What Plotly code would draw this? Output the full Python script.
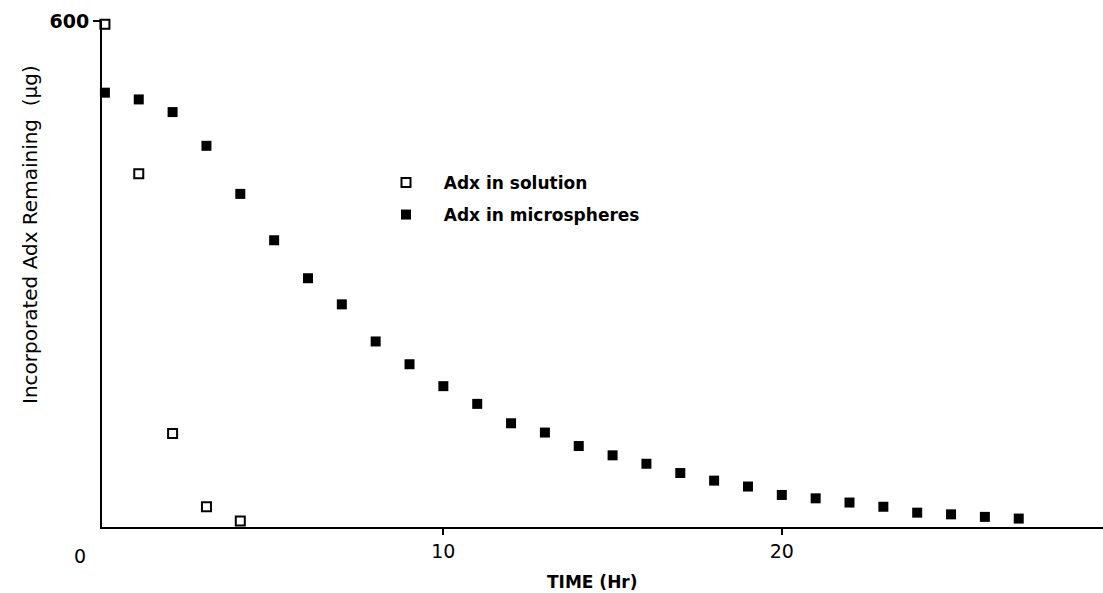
import plotly.graph_objects as go

# Data
time_solution = [0, 1, 2, 3, 4]
adx_solution = [596, 419, 111, 24, 7]

time_micro = list(range(0, 28))
adx_micro = [515, 507, 492, 452, 395, 340, 295, 264, 220, 193,
             167, 146, 123, 112, 96, 85, 75, 64, 55, 48,
             38, 34, 29, 24, 17, 15, 12, 10]

x_tick_vals = [10, 20]
x_tick_text = ["10", "20"]
y_tick_vals = [600]
y_tick_text = ["600"]

W, H = 1103, 593
L, R, T, B = 102, 0, 21, 66
PW, PH = W - L - R, H - T - B

def px(xp):
    return (xp - L) / PW

def py(yp):
    return (H - B - yp) / PH

FONT = "DejaVu Sans"
PAD = "\u00a0\u00a0\u00a0"

fig = go.Figure()
fig.add_trace(go.Scatter(
    x=time_solution, y=adx_solution, mode="markers", name=PAD + "Adx in solution",
    marker=dict(symbol="square-open", size=9, color="black", line=dict(width=2, color="black")),
    cliponaxis=False, legend="legend"))
fig.add_trace(go.Scatter(
    x=time_micro, y=adx_micro, mode="markers", name=PAD + "Adx in microspheres",
    marker=dict(symbol="square", size=10, color="black"),
    cliponaxis=False, legend="legend2"))

leg_font = dict(size=17, family=FONT, color="black", weight="bold")

fig.update_layout(
    width=W, height=H,
    margin=dict(l=L, r=R, t=T, b=B),
    paper_bgcolor="white", plot_bgcolor="white",
    font=dict(family=FONT, color="black"),
    showlegend=True,
    legend=dict(x=px(386), y=py(183), xanchor="left", yanchor="middle",
                font=leg_font, bgcolor="rgba(0,0,0,0)"),
    legend2=dict(x=px(386), y=py(215), xanchor="left", yanchor="middle",
                 font=leg_font, bgcolor="rgba(0,0,0,0)"),
    xaxis=dict(range=[-0.086, 29.49], showline=True, linewidth=2, linecolor="black",
               showgrid=False, zeroline=False, tickmode="array",
               tickvals=x_tick_vals, ticktext=x_tick_text, ticks="outside",
               ticklen=6, tickwidth=2, tickcolor="black",
               tickfont=dict(size=19, family=FONT, color="black")),
    yaxis=dict(range=[0, 600], showline=True, linewidth=2, linecolor="black",
               showgrid=False, zeroline=False, tickmode="array",
               tickvals=y_tick_vals, ticktext=y_tick_text, ticks="outside",
               ticklen=7, tickwidth=2, tickcolor="black",
               tickfont=dict(size=19, family=FONT, color="black", weight="bold")),
    annotations=[
        dict(text="0", xref="paper", yref="paper", x=px(80), y=py(556),
             showarrow=False, xanchor="center", yanchor="middle",
             font=dict(size=19, family=FONT, color="black")),
        dict(text="TIME (Hr)", xref="paper", yref="paper", x=px(592), y=py(582),
             showarrow=False, xanchor="center", yanchor="middle",
             font=dict(size=17, family=FONT, color="black", weight="bold")),
        dict(text="Incorporated Adx Remaining  (µg)", xref="paper", yref="paper",
             x=px(30), y=py(235), textangle=-90,
             showarrow=False, xanchor="center", yanchor="middle",
             font=dict(size=20, family=FONT, color="black")),
    ],
)

fig.write_html("out.html", config={"displayModeBar": False},
               post_script="document.body.style.margin='0';")
